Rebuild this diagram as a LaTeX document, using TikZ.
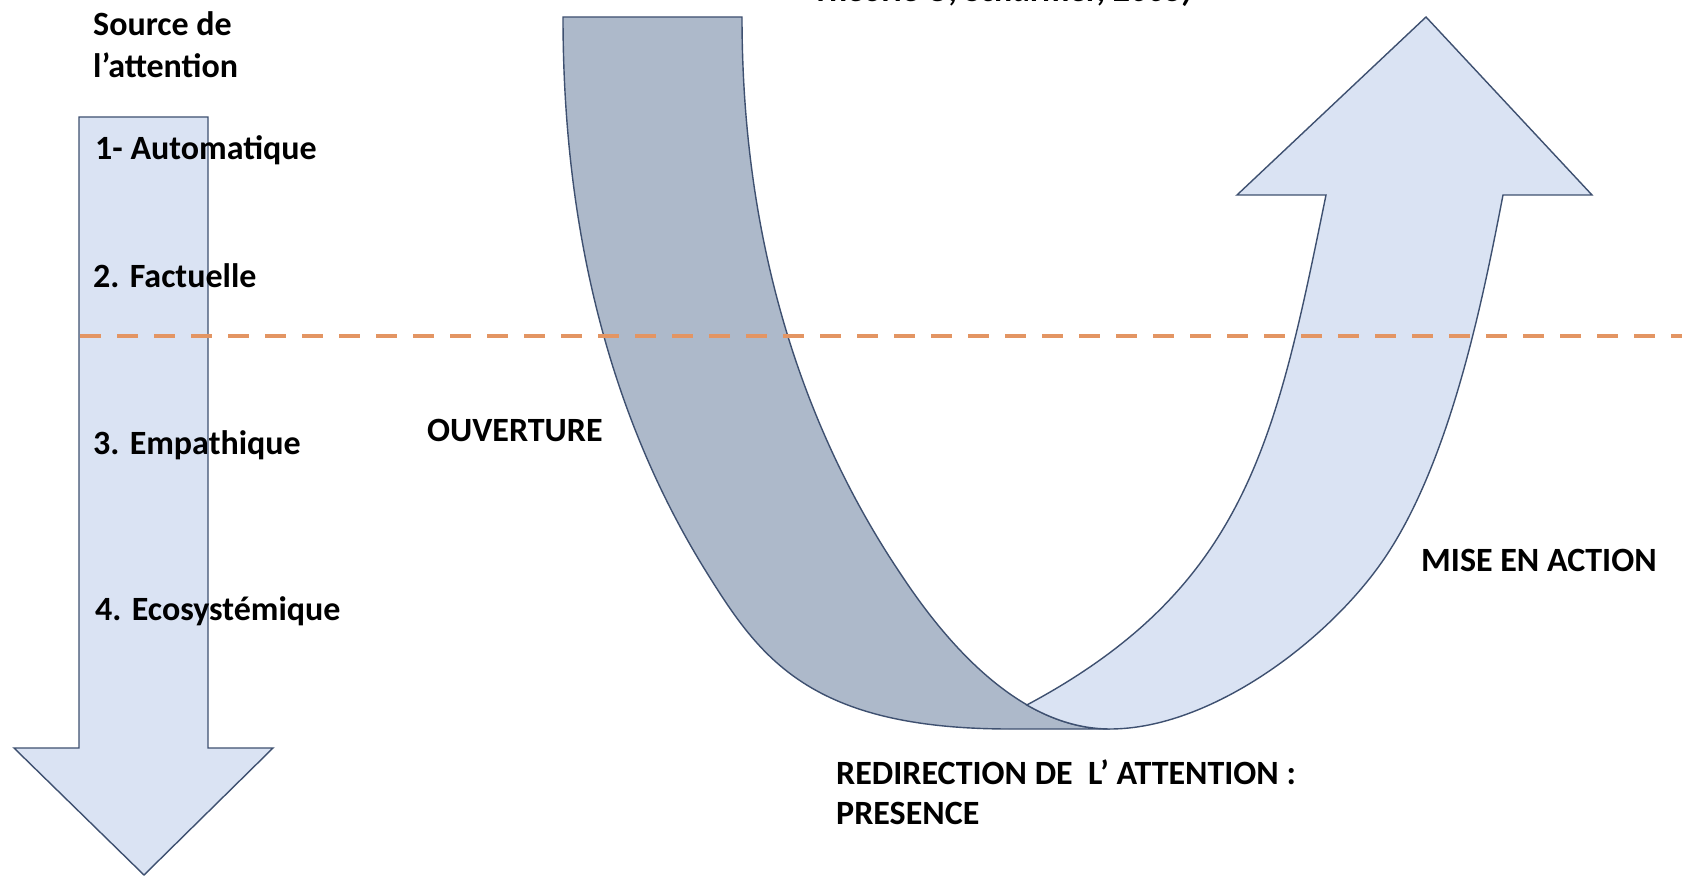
\documentclass[tikz,border=0pt]{standalone}
\usepackage{fontspec}
\setmainfont{Carlito}
\definecolor{darkband}{HTML}{ADB9CA}
\definecolor{lightband}{HTML}{DAE3F3}
\definecolor{edgecol}{HTML}{3E5070}
\definecolor{dashorange}{HTML}{E39563}
\begin{document}
\begin{tikzpicture}[x=1pt,y=-1pt,
  shapeline/.style={draw=edgecol, line width=1.4pt, line join=miter},
  lbl/.style={font=\fontsize{34}{40}\selectfont\bfseries, inner sep=0pt, anchor=base west},
  dashline/.style={draw=dashorange, line width=4pt, dash pattern=on 21pt off 16pt}]
\useasboundingbox (0,0) rectangle (1682,877);
\fill[white] (0,0) rectangle (1682,877);

% left down arrow
\filldraw[shapeline, fill=lightband] (79,117) -- (208,117) -- (208,748) -- (273,748) -- (144,875) -- (14,748) -- (79,748) -- cycle;

% U arrow: dark descending band
\filldraw[shapeline, fill=darkband] (563,17) -- (742,17)
  .. controls (742,267) and (816.5,448.5) .. (900,573)
  .. controls (933,623) and (1010,729) .. (1110,729)
  -- (1010,729)
  .. controls (810,729) and (760,658) .. (707,573)
  .. controls (627.5,445.5) and (563,267) .. (563,17) -- cycle;

% U arrow: light ascending band with head
\coordinate (meet) at (1026.8,705);
\filldraw[shapeline, fill=lightband] (meet)
  .. controls (1052.1,719.5) and (1080,729) .. (1110,729)
  .. controls (1210,729) and (1327.6,641.6) .. (1384,559)
  .. controls (1451.7,459.9) and (1484,293) .. (1503,195)
  -- (1592,195) -- (1426,17) -- (1237,195) -- (1326,195)
  .. controls (1276,440) and (1246.8,587.5) .. (meet) -- cycle;

% dashed level line
\coordinate (dashL) at (80,336);
\coordinate (dashR) at (1682,336);
\draw[dashline] (dashL) -- (dashR);

% texts
\node[lbl, font=\fontsize{34}{40}\selectfont\bfseries\itshape] (theo) at (813,2) {Théorie U, Scharmer, 2005)};
\node[lbl] (src1) at (93,36) {Source de};
\node[lbl] (src2) at (93,78) {l’attention};
\node[lbl] (a1) at (95,160) {1- Automatique};
\node[lbl] (a2) at (93,288) {2. Factuelle};
\node[lbl] (a3) at (93,454) {3. Empathique};
\node[lbl] (a4) at (95,620) {4. Ecosystémique};
\node[lbl] (ouv) at (427,441) {OUVERTURE};
\node[lbl] (mise) at (1421,571) {MISE EN ACTION};
\node[lbl] (redir1) at (836,784) {REDIRECTION DE\ \ L’ ATTENTION :};
\node[lbl] (redir2) at (836,824) {PRESENCE};
\end{tikzpicture}
\end{document}
